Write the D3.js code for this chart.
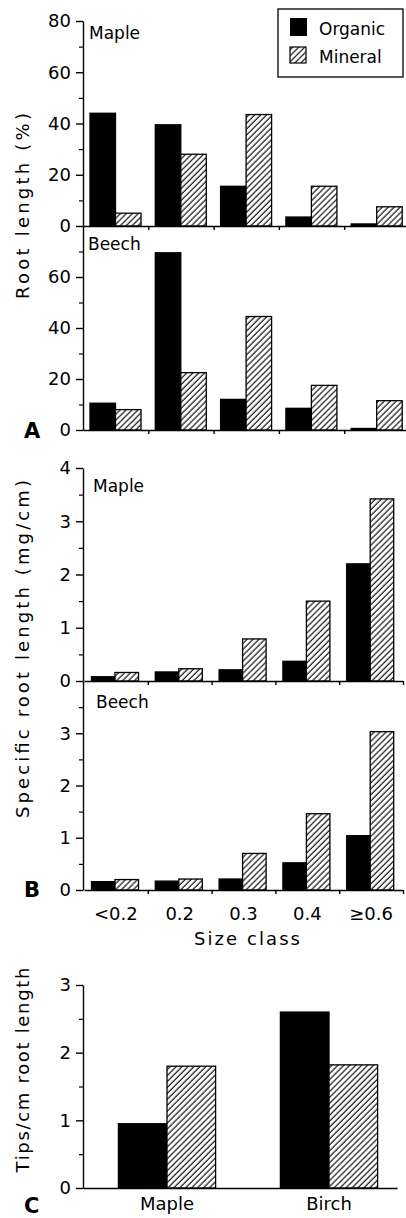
<!DOCTYPE html>
<html>
<head>
<meta charset="utf-8">
<script src="https://cdn.jsdelivr.net/npm/d3@7"></script>
<style>
  body { margin: 0; background: #fff; }
  svg text { font-family: "DejaVu Sans", sans-serif; fill: #000; }
</style>
</head>
<body>
<script>
// values
var sizeClasses = ["<0.2", "0.2", "0.3", "0.4", "\u22650.6"];
var series = ["Organic", "Mineral"];

var lengthMapleOrganic = [44, 39.5, 15.5, 3.5, 0.8];
var lengthMapleMineral = [5, 28, 43.5, 15.5, 7.5];
var lengthBeechOrganic = [10.5, 69.5, 12, 8.5, 0.6];
var lengthBeechMineral = [8, 22.5, 44.5, 17.5, 11.5];

var srlMapleOrganic = [0.08, 0.17, 0.21, 0.37, 2.2];
var srlMapleMineral = [0.16, 0.23, 0.79, 1.5, 3.42];
var srlBeechOrganic = [0.16, 0.17, 0.21, 0.52, 1.04];
var srlBeechMineral = [0.2, 0.21, 0.7, 1.46, 3.03];

var tipSpecies = ["Maple", "Birch"];
var tipsOrganic = [0.95, 2.6];
var tipsMineral = [1.8, 1.82];

var svg = d3.select("body").append("svg")
  .attr("width", 406)
  .attr("height", 1218);

// diagonal hatching for mineral bars
var pat = svg.append("defs").append("pattern")
  .attr("id", "hatch")
  .attr("patternUnits", "userSpaceOnUse")
  .attr("width", 4.2)
  .attr("height", 4.2)
  .attr("patternTransform", "rotate(45)");
pat.append("rect").attr("width", 4.2).attr("height", 4.2).attr("fill", "#fff");
pat.append("line")
  .attr("x1", 1).attr("y1", 0).attr("x2", 1).attr("y2", 4.2)
  .attr("stroke", "#000").attr("stroke-width", 1.1);

var fills = {Organic: "#000", Mineral: "url(#hatch)"};
var axisX = 83;

function yAxis(y, majors, minors) {
  var g = svg.append("g")
    .attr("transform", "translate(" + axisX + ",0)")
    .call(d3.axisLeft(y).tickValues(majors).tickSize(7).tickSizeOuter(0).tickPadding(5).tickFormat(d3.format("d")));
  g.attr("font-size", 18).attr("font-family", "DejaVu Sans");
  g.selectAll("path, line").attr("stroke-width", 1.4);

  var m = svg.append("g")
    .attr("transform", "translate(" + axisX + ",0)")
    .call(d3.axisLeft(y).tickValues(minors).tickSize(4).tickFormat(""));
  m.select(".domain").remove();
  m.selectAll("line").attr("stroke-width", 1.2);
}

function xLine(xEdge, y0, ticks) {
  var g = svg.append("g")
    .attr("transform", "translate(0," + y0 + ")")
    .call(d3.axisBottom(xEdge).tickValues(ticks).tickSize(4).tickSizeOuter(0).tickFormat(""));
  g.selectAll("path, line").attr("stroke-width", 1.4);
}

function bars(xBand, xInner, y, organic, mineral) {
  var rows = [];
  xBand.domain().forEach(function(c, i) {
    rows.push({cls: c, key: "Organic", v: organic[i]});
    rows.push({cls: c, key: "Mineral", v: mineral[i]});
  });
  svg.append("g").selectAll("rect")
    .data(rows)
    .enter()
    .append("rect")
    .attr("x", function(d) { return xBand(d.cls) + xInner(d.key); })
    .attr("y", function(d) { return y(d.v); })
    .attr("width", xInner.bandwidth())
    .attr("height", function(d) { return y(0) - y(d.v); })
    .attr("fill", function(d) { return fills[d.key]; })
    .attr("stroke", "#000")
    .attr("stroke-width", 1.3);
}

function label(x, y, txt, size) {
  return svg.append("text")
    .attr("x", x).attr("y", y)
    .style("font-size", size + "px")
    .text(txt);
}

function yTitle(cx, cy, txt, len) {
  svg.append("text")
    .attr("transform", "translate(" + cx + "," + cy + ") rotate(-90)")
    .attr("text-anchor", "middle")
    .attr("textLength", len)
    .attr("lengthAdjust", "spacing")
    .style("font-size", "18px")
    .text(txt);
}

// ---------- panel A: root length ----------
var xA = d3.scaleBand().domain(sizeClasses).range([83, 409.5]);
var xAin = d3.scaleBand().domain(series).range([7, 58]);
var xAedge = d3.scaleLinear().domain([0, 5]).range([83, 409.5]);

var yAmaple = d3.scaleLinear().domain([0, 80]).range([226, 21]);
var yAbeech = d3.scaleLinear().domain([0, 80]).range([430, 226]);

bars(xA, xAin, yAmaple, lengthMapleOrganic, lengthMapleMineral);
bars(xA, xAin, yAbeech, lengthBeechOrganic, lengthBeechMineral);
yAxis(yAmaple, [0, 20, 40, 60, 80], [10, 30, 50, 70]);
yAxis(yAbeech, [0, 20, 40, 60], [10, 30, 50, 70]);
xLine(xAedge, 226, [1, 2, 3, 4]);
xLine(xAedge, 430, [1, 2, 3, 4]);

label(89, 39, "Maple", 17);
label(88, 250, "Beech", 17);
yTitle(29, 206, "Root length (%)", 186);
label(24, 438, "A", 21).style("font-weight", "bold");

// legend
svg.append("rect")
  .attr("x", 278).attr("y", 9).attr("width", 125).attr("height", 68)
  .attr("fill", "#fff").attr("stroke", "#000").attr("stroke-width", 1.3);
svg.append("rect")
  .attr("x", 290).attr("y", 18).attr("width", 17).attr("height", 18)
  .attr("fill", fills.Organic);
svg.append("rect")
  .attr("x", 290).attr("y", 47).attr("width", 16).attr("height", 16)
  .attr("fill", fills.Mineral).attr("stroke", "#000").attr("stroke-width", 1.2);
label(319, 35, series[0], 17);
label(319, 63, series[1], 17);

// ---------- panel B: specific root length ----------
var xB = d3.scaleBand().domain(sizeClasses).range([84, 403]);
var xBin = d3.scaleBand().domain(series).range([7.5, 54.5]);
var xBedge = d3.scaleLinear().domain([0, 5]).range([84, 403]);

var yBmaple = d3.scaleLinear().domain([0, 4]).range([681, 468]);
var yBbeech = d3.scaleLinear().domain([0, 4]).range([890, 681]);

bars(xB, xBin, yBmaple, srlMapleOrganic, srlMapleMineral);
bars(xB, xBin, yBbeech, srlBeechOrganic, srlBeechMineral);
yAxis(yBmaple, [0, 1, 2, 3, 4], [0.5, 1.5, 2.5, 3.5]);
yAxis(yBbeech, [0, 1, 2, 3], [0.5, 1.5, 2.5, 3.5]);
xLine(xBedge, 681, [1, 2, 3, 4, 5]);
xLine(xBedge, 890, [1, 2, 3, 4, 5]);

var catB = svg.append("g")
  .attr("transform", "translate(0,890)")
  .call(d3.axisBottom(xB).tickSize(0).tickPadding(17));
catB.select(".domain").remove();
catB.attr("font-size", 18).attr("font-family", "DejaVu Sans");

label(93, 492, "Maple", 17);
label(96, 708, "Beech", 17);
svg.append("text")
  .attr("x", 247).attr("y", 945)
  .attr("text-anchor", "middle")
  .attr("textLength", 106)
  .attr("lengthAdjust", "spacing")
  .style("font-size", "18px")
  .text("Size class");
yTitle(29, 649, "Specific root length (mg/cm)", 338);
label(24, 897, "B", 21).style("font-weight", "bold");

// ---------- panel C: tips per cm ----------
var xC = d3.scaleBand().domain(tipSpecies).range([86, 410]).paddingInner(0.4).paddingOuter(0.2);
var xCin = d3.scaleBand().domain(series).range([0, xC.bandwidth()]);
var yC = d3.scaleLinear().domain([0, 3]).range([1188, 985]);

bars(xC, xCin, yC, tipsOrganic, tipsMineral);
yAxis(yC, [0, 1, 2, 3], [0.5, 1.5, 2.5]);
xLine(d3.scaleLinear().domain([0, 1]).range([83, 397]), 1188, []);

var catC = svg.append("g")
  .attr("transform", "translate(0,1188)")
  .call(d3.axisBottom(xC).tickSize(0).tickPadding(9));
catC.select(".domain").remove();
catC.attr("font-size", 18).attr("font-family", "DejaVu Sans");

yTitle(29, 1070, "Tips/cm root length", 205);
label(24, 1213, "C", 21).style("font-weight", "bold");
</script>
</body>
</html>
